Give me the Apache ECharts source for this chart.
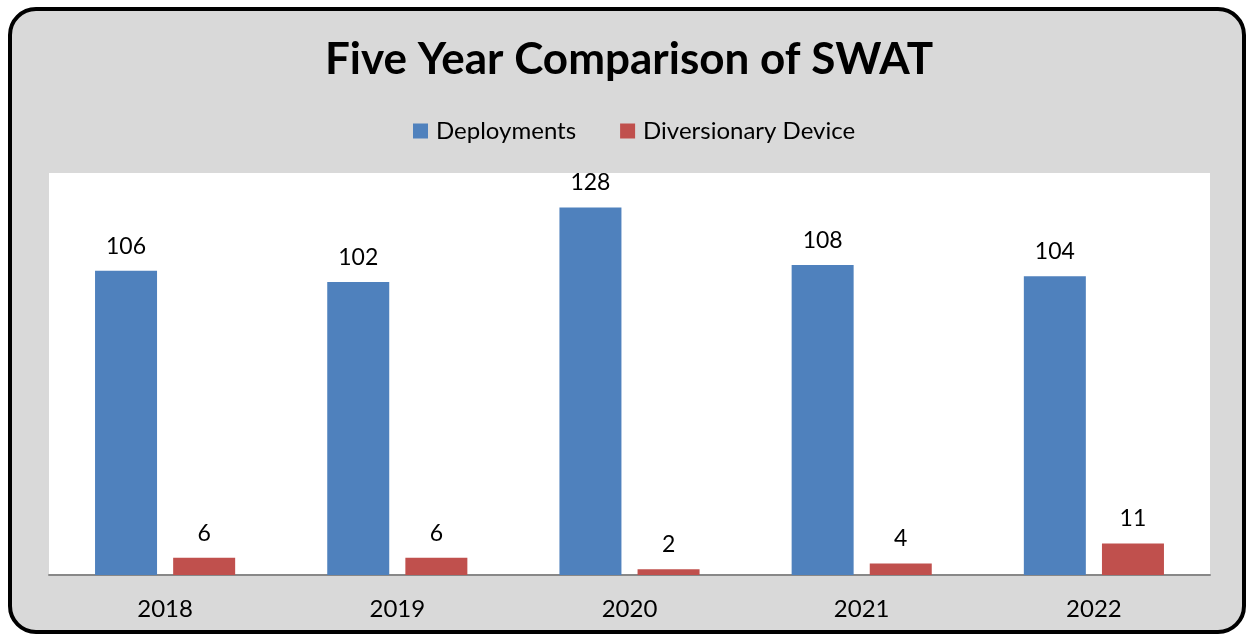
<!DOCTYPE html>
<html>
<head>
<meta charset="utf-8">
<script src="https://cdn.jsdelivr.net/npm/echarts@6/dist/echarts.min.js"></script>
<style>
html,body{margin:0;padding:0;background:#fff;}
#c{width:1248px;height:635px;}
</style>
</head>
<body>
<div id="c"></div>
<script>
const categories = ['2018', '2019', '2020', '2021', '2022'];
const deployments = [106, 102, 128, 108, 104];
const diversionary = [6, 6, 2, 4, 11];
const seriesNames = ['Deployments', 'Diversionary Device'];
const titleText = 'Five Year Comparison of SWAT';

const FONT = 'Lato';
const chart = echarts.init(document.getElementById('c'), null, {renderer: 'canvas'});
chart.setOption({
  backgroundColor: '#fff',
  animation: false,
  graphic: [{
    type: 'rect', z: -10, silent: true,
    shape: {x: 10, y: 9, width: 1234, height: 623, r: 26},
    style: {fill: '#d9d9d9', stroke: '#000', lineWidth: 4}
  }],
  title: {
    text: titleText, left: 320, top: 33,
    textStyle: {fontFamily: FONT, fontWeight: 'bold', fontSize: 44, color: '#000'}
  },
  legend: {
    top: 114, left: 408, itemWidth: 15, itemHeight: 15, itemGap: 44,
    icon: 'rect',
    textStyle: {fontFamily: FONT, fontSize: 24, color: '#000', padding: [0, 0, 0, 3]},
    data: seriesNames
  },
  grid: {left: 49, right: 38, top: 173, bottom: 60, show: true, backgroundColor: '#fff', borderWidth: 0, containLabel: false},
  xAxis: {
    type: 'category', data: categories,
    axisLine: {lineStyle: {color: '#888', width: 2}},
    axisTick: {show: false},
    axisLabel: {fontFamily: FONT, fontSize: 24, color: '#000', margin: 22}
  },
  yAxis: {type: 'value', min: 0, max: 140, show: false, splitLine: {show: false}},
  series: [
    {name: seriesNames[0], type: 'bar', data: deployments, barWidth: 62, barGap: '26%',
     itemStyle: {color: '#4f81bd'},
     label: {show: true, position: 'top', distance: 13, fontFamily: FONT, fontSize: 23, color: '#000'}},
    {name: seriesNames[1], type: 'bar', data: diversionary, barWidth: 62,
     itemStyle: {color: '#c0504d'},
     label: {show: true, position: 'top', distance: 13, fontFamily: FONT, fontSize: 23, color: '#000'}}
  ]
});
</script>
</body>
</html>
